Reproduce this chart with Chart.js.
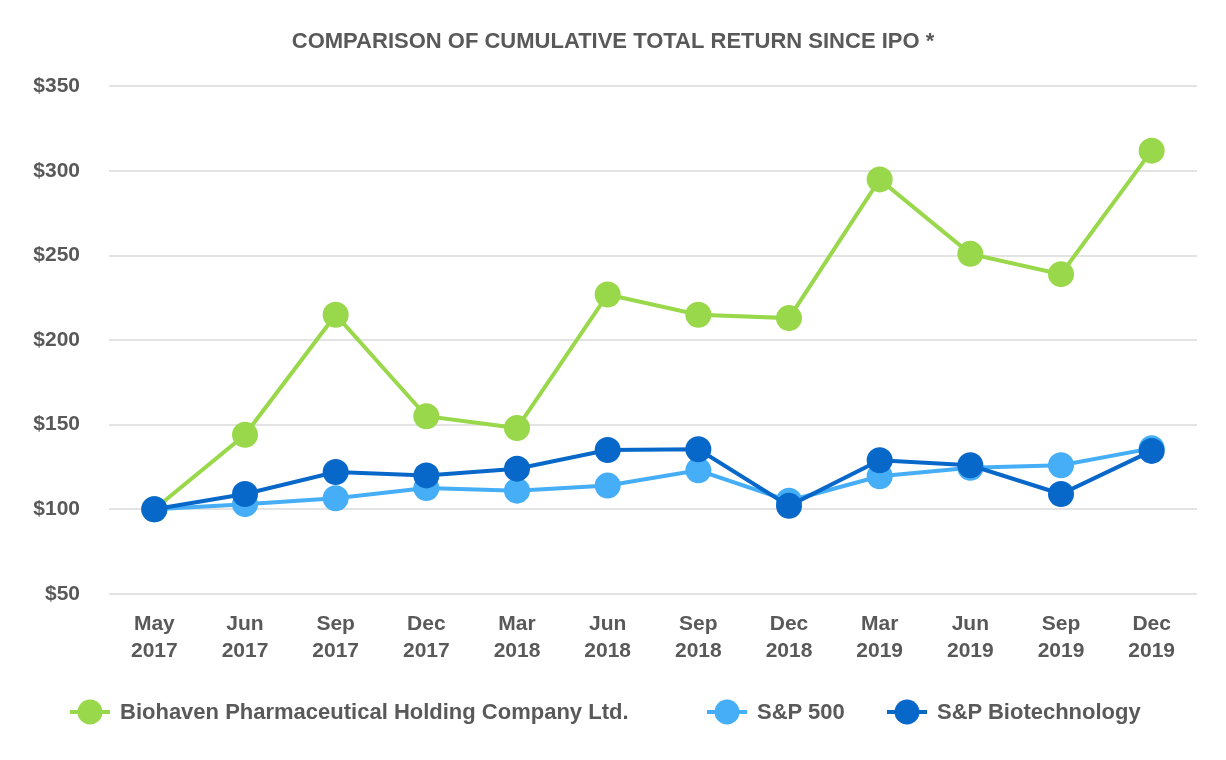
<!DOCTYPE html>
<html lang="en">
<head>
    <meta charset="UTF-8">
    <title>Comparison of cumulative total return since IPO</title>
    <script src="https://cdn.jsdelivr.net/npm/chart.js"></script>
    <style>
        html, body { margin: 0; padding: 0; background: #fff; }
        .wrap { position: relative; width: 1226px; height: 760px; }
        #legenda {
            position: absolute; top: 697px; left: 0; width: 1226px; height: 30px;
            font-family: "Liberation Sans", Arial, sans-serif; font-weight: bold;
            font-size: 22px; color: #595959;
        }
        .item { position: absolute; display: flex; align-items: center; height: 30px; }
        .item canvas { margin-right: 10px; }
    </style>
</head>
<body>
    <div class="wrap">
        <canvas id="grafico" width="1226" height="760"></canvas>
        <div id="legenda"></div>
    </div>

<script>
    // dados
    const periodos = [['May', '2017'], ['Jun', '2017'], ['Sep', '2017'], ['Dec', '2017'], ['Mar', '2018'], ['Jun', '2018'],
        ['Sep', '2018'], ['Dec', '2018'], ['Mar', '2019'], ['Jun', '2019'], ['Sep', '2019'], ['Dec', '2019']];
    const biohaven = [100, 144, 215, 155, 148, 227, 215, 213, 295, 251, 239, 312];
    const sp500 = [100, 103, 106.5, 112.5, 111, 114, 123, 105, 119.5, 124.5, 126, 136];
    const spBiotech = [100, 109, 122, 120, 124, 135, 135.5, 102, 129, 126, 109, 134.5];
    const nomes = ['Biohaven Pharmaceutical Holding Company Ltd.', 'S&P 500', 'S&P Biotechnology'];
    const cores = ['#98D84A', '#45AEF7', '#0868C9'];
    const legendaX = [70, 707, 887];

    const fonte = '"Liberation Sans", Arial, sans-serif';
    const cinza = '#595959';

    function serie(i, valores, ordem) {
        return {
            label: nomes[i],
            data: valores,
            borderColor: cores[i],
            backgroundColor: cores[i],
            borderWidth: 4,
            pointRadius: 13,
            pointHoverRadius: 13,
            pointBorderWidth: 0,
            tension: 0,
            order: ordem
        };
    }

    const ctx = document.getElementById('grafico').getContext('2d');
    const graficoChart = new Chart(ctx, {
        type: 'line',
        data: {
            labels: periodos,
            datasets: [serie(0, biohaven, 2), serie(1, sp500, 1), serie(2, spBiotech, 0)]
        },
        options: {
            responsive: false,
            animation: false,
            layout: { padding: { left: 29, right: 29, top: 0, bottom: 86 } },
            plugins: {
                legend: { display: false },
                tooltip: { enabled: false },
                title: {
                    display: true,
                    text: 'COMPARISON OF CUMULATIVE TOTAL RETURN SINCE IPO *',
                    color: cinza,
                    font: { family: fonte, size: 22, weight: 'bold' },
                    padding: { top: 29, bottom: 31 }
                }
            },
            scales: {
                x: {
                    offset: true,
                    grid: { display: false },
                    border: { display: false },
                    ticks: {
                        color: cinza,
                        font: { family: fonte, size: 21, weight: 'bold', lineHeight: 1.29 },
                        padding: 9,
                        maxRotation: 0
                    }
                },
                y: {
                    min: 50,
                    max: 350,
                    afterFit: function (escala) { escala.width = 80; },
                    grid: { color: '#e3e3e3', lineWidth: 2, drawTicks: false },
                    border: { display: false },
                    ticks: {
                        stepSize: 50,
                        color: cinza,
                        padding: 29,
                        font: { family: fonte, size: 21, weight: 'bold' },
                        callback: function (v) { return '$' + v; }
                    }
                }
            }
        }
    });

    // legenda em html com linha + bolinha
    const legenda = document.getElementById('legenda');
    for (let i = 0; i < nomes.length; i++) {
        const item = document.createElement('div');
        item.className = 'item';
        item.style.left = legendaX[i] + 'px';
        const c = document.createElement('canvas');
        c.width = 40; c.height = 30;
        const g = c.getContext('2d');
        g.strokeStyle = cores[i];
        g.lineWidth = 4;
        g.beginPath(); g.moveTo(0, 15); g.lineTo(40, 15); g.stroke();
        g.fillStyle = cores[i];
        g.beginPath(); g.arc(20, 15, 12.5, 0, Math.PI * 2); g.fill();
        item.appendChild(c);
        const t = document.createElement('span');
        t.textContent = nomes[i];
        item.appendChild(t);
        legenda.appendChild(item);
    }
</script>
</body>
</html>
